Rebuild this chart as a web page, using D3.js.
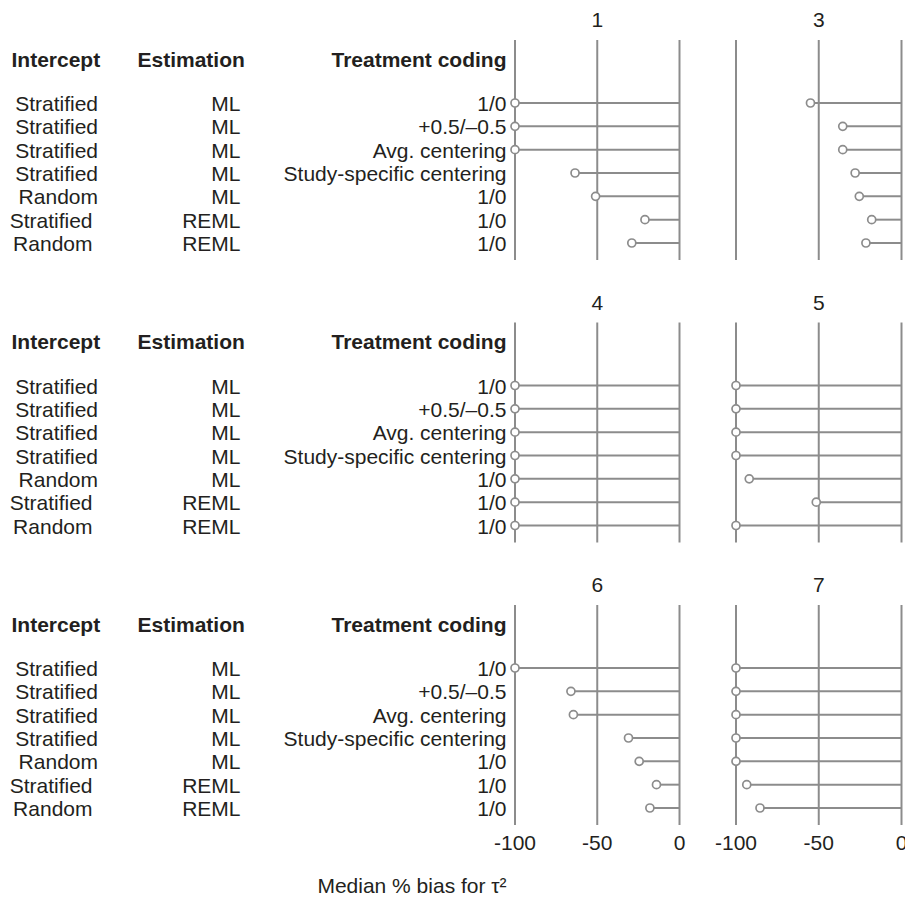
<!DOCTYPE html>
<html>
<head>
<meta charset="utf-8">
<script src="https://cdn.jsdelivr.net/npm/d3@7/dist/d3.min.js"></script>
<style>
  html, body { margin: 0; padding: 0; background: #fff; }
  svg { display: block; }
  text { font-family: "Liberation Sans", Arial, Helvetica, sans-serif; fill: #231f20; }
</style>
</head>
<body>
<svg id="chart" width="905" height="898"></svg>
<script>
// ---- data ----
const intercept  = ["Stratified", "Stratified", "Stratified", "Stratified", "Random", "Stratified", "Random"];
const estimation = ["ML", "ML", "ML", "ML", "ML", "REML", "REML"];
const coding     = ["1/0", "+0.5/\u20130.5", "Avg. centering", "Study-specific centering", "1/0", "1/0", "1/0"];
const headers    = ["Intercept", "Estimation", "Treatment coding"];

const panelTitles = ["1", "3", "4", "5", "6", "7"];
const bias1 = [-100, -100, -100, -63.5, -51, -21, -29];
const bias3 = [-55, -35.5, -35.5, -28, -25.5, -18, -21.5];
const bias4 = [-100, -100, -100, -100, -100, -100, -100];
const bias5 = [-100, -100, -100, -100, -92, -51.5, -100];
const bias6 = [-100, -66, -64.5, -31, -24.5, -14, -18];
const bias7 = [-100, -100, -100, -100, -100, -93.5, -85.5];
const allBias = [bias1, bias3, bias4, bias5, bias6, bias7];

const tickValues = [-100, -50, 0];
const tickLabels = ["-100", "-50", "0"];
const axisTitle = "Median % bias for \u03c4\u00b2";

// ---- layout ----
const svg = d3.select("#chart");
const FS = 21;
const GRAY = "#8c8c8c";
const blockStep = 282.5;

const xScales = [
  d3.scaleLinear().domain([-100, 0]).range([515, 679.5]),
  d3.scaleLinear().domain([-100, 0]).range([736, 901.5])
];
const yRow = d3.scalePoint().domain(d3.range(intercept.length)).range([103, 243]);

for (let b = 0; b < 3; b++) {
  const g = svg.append("g").attr("transform", `translate(0,${b * blockStep})`);

  // headers
  g.append("text").attr("x", 11.5).attr("y", 66.5).attr("font-size", FS)
    .attr("font-weight", "bold").text(headers[0]);
  g.append("text").attr("x", 137.5).attr("y", 66.5).attr("font-size", FS)
    .attr("font-weight", "bold").text(headers[1]);
  g.append("text").attr("x", 506.5).attr("y", 66.5).attr("font-size", FS)
    .attr("font-weight", "bold").attr("text-anchor", "end").text(headers[2]);

  // row labels
  intercept.forEach((t, i) => {
    g.append("text").attr("x", estimation[i] === "REML" ? 92.5 : 98)
      .attr("y", yRow(i) + 8).attr("font-size", FS).attr("text-anchor", "end").text(t);
  });
  estimation.forEach((t, i) => {
    g.append("text").attr("x", 240.5).attr("y", yRow(i) + 8).attr("font-size", FS)
      .attr("text-anchor", "end").text(t);
  });
  coding.forEach((t, i) => {
    g.append("text").attr("x", 506.5).attr("y", yRow(i) + 8).attr("font-size", FS)
      .attr("text-anchor", "end").text(t);
  });

  for (let p = 0; p < 2; p++) {
    const idx = b * 2 + p;
    const x = xScales[p];
    const vals = allBias[idx];
    const pg = g.append("g");

    pg.append("text").attr("x", x(-50)).attr("y", 27).attr("font-size", FS)
      .attr("text-anchor", "middle").text(panelTitles[idx]);

    pg.selectAll("line.grid").data(tickValues).enter().append("line")
      .attr("class", "grid")
      .attr("x1", d => x(d)).attr("x2", d => x(d))
      .attr("y1", 40).attr("y2", 260)
      .attr("stroke", GRAY).attr("stroke-width", 2);

    pg.selectAll("line.stem").data(vals).enter().append("line")
      .attr("class", "stem")
      .attr("x1", d => x(d)).attr("x2", x(0))
      .attr("y1", (d, i) => yRow(i)).attr("y2", (d, i) => yRow(i))
      .attr("stroke", GRAY).attr("stroke-width", 2);

    pg.selectAll("circle").data(vals).enter().append("circle")
      .attr("cx", d => x(d)).attr("cy", (d, i) => yRow(i)).attr("r", 4)
      .attr("fill", "#fff").attr("stroke", GRAY).attr("stroke-width", 1.7);

    if (b === 2) {
      pg.selectAll("text.tick").data(tickValues).enter().append("text")
        .attr("class", "tick")
        .attr("x", d => x(d)).attr("y", 850 - b * blockStep)
        .attr("font-size", FS).attr("text-anchor", "middle")
        .text((d, i) => tickLabels[i]);
    }
  }
}

svg.append("text").attr("x", 412).attr("y", 893).attr("font-size", FS)
  .attr("text-anchor", "middle").text(axisTitle);
</script>
</body>
</html>
